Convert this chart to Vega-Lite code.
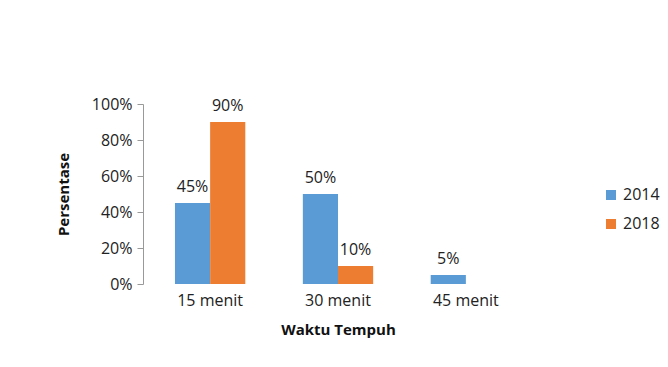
{
  "$schema": "https://vega.github.io/schema/vega-lite/v6.json",
  "width": 390,
  "height": 180,
  "autosize": "none",
  "padding": {"left": 143, "top": 104, "right": 135, "bottom": 83},
  "background": "white",
  "config": {
    "view": {"stroke": null},
    "font": "Open Sans",
    "axis": {"labelFont": "Open Sans", "titleFont": "Open Sans", "labelColor": "#222", "titleColor": "#111"},
    "legend": {"labelFont": "Open Sans"}
  },
  "data": {
    "values": [
      {"waktu": "15 menit", "tahun": "2014", "v": 0.45},
      {"waktu": "15 menit", "tahun": "2018", "v": 0.90},
      {"waktu": "30 menit", "tahun": "2014", "v": 0.50},
      {"waktu": "30 menit", "tahun": "2018", "v": 0.10},
      {"waktu": "45 menit", "tahun": "2014", "v": 0.05},
      {"waktu": "45 menit", "tahun": "2018", "v": 0.0}
    ]
  },
  "encoding": {
    "x": {
      "field": "waktu", "type": "nominal", "sort": null,
      "scale": {"paddingInner": 0.45, "paddingOuter": 0.25},
      "axis": {"title": "Waktu Tempuh", "labelAngle": 0, "domain": false, "ticks": false,
               "labelFontSize": 16, "labelPadding": 8, "titleFontSize": 15, "titleFontWeight": "bold", "titlePadding": 14}
    },
    "xOffset": {"field": "tahun", "type": "nominal", "scale": {"paddingInner": 0}},
    "y": {
      "field": "v", "type": "quantitative",
      "scale": {"domain": [0, 1]},
      "axis": {"title": "Persentase", "format": "%", "values": [0, 0.2, 0.4, 0.6, 0.8, 1], "labelOverlap": false,
               "grid": false, "domainColor": "#999", "tickColor": "#999", "tickSize": 6,
               "labelFontSize": 16, "labelPadding": 5, "titleFontSize": 15, "titleFontWeight": "bold", "titlePadding": 20}
    }
  },
  "layer": [
    {
      "mark": {"type": "bar"},
      "encoding": {
        "color": {
          "field": "tahun", "type": "nominal",
          "scale": {"domain": ["2014", "2018"], "range": ["#5B9BD5", "#ED7D31"]},
          "legend": {"title": null, "orient": "none", "legendX": 460, "legendY": 83, "labelFontSize": 16,
                     "symbolType": "square", "symbolSize": 100, "rowPadding": 13, "labelColor": "#222"}
        }
      }
    },
    {
      "transform": [{"filter": "datum.v > 0"}],
      "mark": {"type": "text", "baseline": "bottom", "dy": -8, "fontSize": 16, "color": "#222"},
      "encoding": {
        "text": {"field": "v", "type": "quantitative", "format": ".0%"}
      }
    }
  ]
}
